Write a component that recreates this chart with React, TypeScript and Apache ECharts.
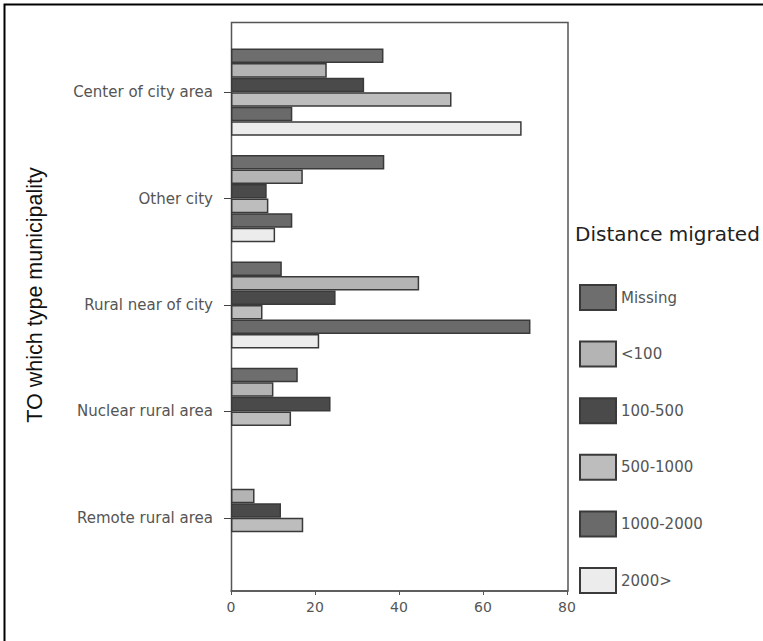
import React, { useEffect, useRef } from "react";
import * as echarts from "echarts";

const categories = [
  "Center of city area",
  "Other city",
  "Rural near of city",
  "Nuclear rural area",
  "Remote rural area",
];
const seriesNames = ["Missing", "<100", "100-500", "500-1000", "1000-2000", "2000>"];
const missing = [36.3, 36.5, 12.1, 15.9, null];
const lt100 = [22.8, 17.1, 44.8, 10.1, 5.6];
const d100to500 = [31.7, 8.5, 24.9, 23.7, 11.9];
const d500to1000 = [52.5, 8.9, 7.5, 14.3, 17.2];
const d1000to2000 = [14.6, 14.6, 71.3, null, null];
const gt2000 = [69.2, 10.5, 21.0, null, null];
const seriesValues = [missing, lt100, d100to500, d500to1000, d1000to2000, gt2000];
const seriesColors = ["#6e6e6e", "#b4b4b4", "#4a4a4a", "#bdbdbd", "#6a6a6a", "#ececec"];
const xTicks = { min: 0, max: 80, interval: 20 };

export default function App() {
  const ref = useRef<HTMLDivElement>(null);
  useEffect(() => {
    if (!ref.current) return;
    const chart = echarts.init(ref.current, null, { renderer: "svg" });
    const labelFont = "DejaVu Sans";
    chart.setOption({
      animation: false,
      backgroundColor: "#ffffff",
      title: {
        text: "Distance migrated",
        left: 575,
        top: 224,
        padding: 0,
        textStyle: { fontFamily: labelFont, fontSize: 20, fontWeight: "normal", color: "#222" },
      },
      legend: {
        orient: "vertical",
        left: 579,
        top: 284,
        padding: 0,
        itemWidth: 36,
        itemHeight: 25,
        itemGap: 29.6,
        icon: "rect",
        data: seriesNames,
        textStyle: { fontFamily: labelFont, fontSize: 15, color: "#555" },
      },
      grid: { left: 231, right: 196, top: 39, bottom: 70, containLabel: false },
      xAxis: {
        type: "value",
        min: xTicks.min,
        max: xTicks.max,
        interval: xTicks.interval,
        position: "bottom",
        offset: 20,
        axisLine: { show: true, lineStyle: { color: "#555", width: 1.5 } },
        axisTick: { show: true, length: 4, lineStyle: { color: "#555" } },
        axisLabel: { margin: 9, fontFamily: labelFont, fontSize: 14, color: "#555" },
        splitLine: { show: false },
      },
      yAxis: {
        type: "category",
        inverse: true,
        data: categories,
        axisLine: { show: false },
        axisTick: { show: true, alignWithLabel: true, length: 7, lineStyle: { color: "#444" } },
        axisLabel: { margin: 18, fontFamily: labelFont, fontSize: 15, color: "#555" },
        splitLine: { show: false },
      },
      graphic: [
        {
          type: "rect",
          z: -1,
          shape: { x: 4.5, y: 4.5, width: 800, height: 700 },
          style: { fill: "none", stroke: "#000", lineWidth: 2 },
        },
        {
          type: "rect",
          z: -1,
          shape: { x: 231.5, y: 22.5, width: 336.5, height: 568.5 },
          style: { fill: "none", stroke: "#555", lineWidth: 1.5 },
        },
        {
          type: "text",
          x: 35,
          y: 295,
          rotation: Math.PI / 2,
          style: {
            text: "TO which type municipality",
            font: '21.5px "Liberation Sans"',
            fill: "#111",
            align: "center",
            verticalAlign: "middle",
            textAlign: "center",
            textVerticalAlign: "middle",
          },
        },
      ],
      series: seriesNames.map((name, i) => ({
        name,
        type: "bar",
        data: seriesValues[i],
        barGap: "0%",
        barCategoryGap: "18%",
        itemStyle: { color: seriesColors[i], borderColor: "#3a3a3a", borderWidth: 1.5 },
      })),
    });
    return () => chart.dispose();
  }, []);
  return (
    <div
      ref={ref}
      style={{ position: "fixed", left: 0, top: 0, width: 763, height: 641 }}
    />
  );
}
